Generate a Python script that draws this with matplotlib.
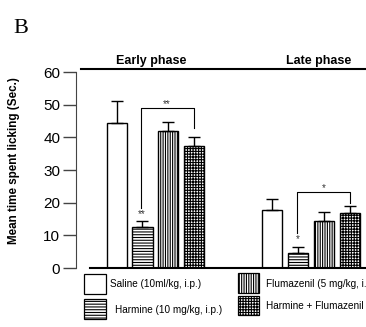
import numpy as np
import matplotlib.pyplot as plt
from matplotlib.patches import Rectangle
from matplotlib.lines import Line2D

plt.rcParams['font.family'] = ['Liberation Sans', 'DejaVu Sans']
plt.rcParams['hatch.linewidth'] = 0.8

# dados
grupos = ["Saline (10ml/kg, i.p.)", "Harmine (10 mg/kg, i.p.)",
          "Flumazenil (5 mg/kg, i.p.)", "Harmine + Flumazenil"]
hatches = ["", "------", "|||||||", "++++++"]
pos_x = [0, 1, 2, 3, 6, 7, 8, 9]
medias_early = [44.5, 12.7, 42.0, 37.3]
erros_early = [6.7, 1.8, 2.6, 2.7]
medias_late = [17.9, 4.7, 14.5, 16.7]
erros_late = [3.1, 1.6, 2.6, 2.3]

# colchetes de significância: (x esq, x dir, y topo, y base esq, y base dir, texto)
colchetes = [(0.93, 2.97, 49.0, 18.4, 43.0, "**"),
             (6.95, 9.0, 23.4, 10.8, 20.0, "*")]
estrelas = [(0.97, 15.0, "**"), (6.98, 7.2, "*")]

W, H = 366, 327
fig = plt.figure(figsize=(W / 100, H / 100), dpi=100)
ax = fig.add_axes([90 / W, 1 - 268 / H, 276 / W, 196 / H])

medias = medias_early + medias_late
erros = erros_early + erros_late
hatch_all = hatches * 2
for x, m, e, h in zip(pos_x, medias, erros, hatch_all):
    ax.bar(x, m, width=0.77, color="white", edgecolor="black", linewidth=1.0,
           hatch=h, zorder=2)
    ax.errorbar(x, m, yerr=[[0], [e]], fmt="none", ecolor="black",
                elinewidth=1.0, capsize=4.6, capthick=1.0, zorder=3)

for xl, xr, yt, yl, yr, txt in colchetes:
    ax.plot([xl, xl, xr, xr], [yl, yt, yt, yr], color="black", lw=0.8,
            zorder=4, clip_on=False)
    ax.text((xl + xr) / 2, yt - 0.4, txt, ha="center", va="bottom",
            fontsize=7, color="#333333")
for x, y, txt in estrelas:
    ax.text(x, y, txt, ha="center", va="bottom", fontsize=7, color="#333333")

ax.set_xlim(-1.02, 9.6)
ax.set_ylim(0, 60)
ax.set_yticks(np.arange(0, 61, 10))
ax.set_xticks([])
ax.spines["top"].set_visible(False)
ax.spines["right"].set_visible(False)
ax.spines["left"].set_position(("outward", 10))
ax.spines["left"].set_bounds(0, 60)
ax.spines["left"].set_color("#444444")
ax.spines["bottom"].set_linewidth(1.5)
ax.tick_params(axis="y", length=9.4, width=1.0, pad=2, labelsize=11,
               color="#444444")

# linha superior e títulos das fases
fig.add_artist(Line2D([81 / W, 1.0], [1 - 69 / H, 1 - 69 / H], color="black", lw=1.5))
fig.text(151 / W, 1 - 61 / H, "Early phase", ha="center", va="center",
         fontsize=9, fontweight="bold")
fig.text(319 / W, 1 - 61 / H, "Late phase", ha="center", va="center",
         fontsize=9, fontweight="bold")
fig.text(13 / W, 1 - 33 / H, "B", ha="left", va="baseline", fontsize=16,
         family="Liberation Serif")
fig.text(14 / W, 1 - 161 / H, "Mean time spent licking (Sec.)", rotation=90,
         ha="center", va="center", fontsize=8.4, fontweight="bold")

# legenda manual (o último texto fica cortado na borda, como no original)
caixas = [(84, 274, 22, 20, 110, 284),
          (84, 299, 22, 20, 115, 310),
          (238, 273, 21, 20, 266, 284),
          (238, 296, 21, 19, 266, 306)]
for (bx, by, bw, bh, tx, ty), nome, h in zip(caixas, grupos, hatches):
    fig.add_artist(Rectangle((bx / W, 1 - (by + bh) / H), bw / W, bh / H,
                             facecolor="white", edgecolor="black", lw=0.9,
                             hatch=h, transform=fig.transFigure))
    fig.text(tx / W, 1 - ty / H, nome, ha="left", va="center", fontsize=7.2)

fig.savefig("out.png", dpi=100)
